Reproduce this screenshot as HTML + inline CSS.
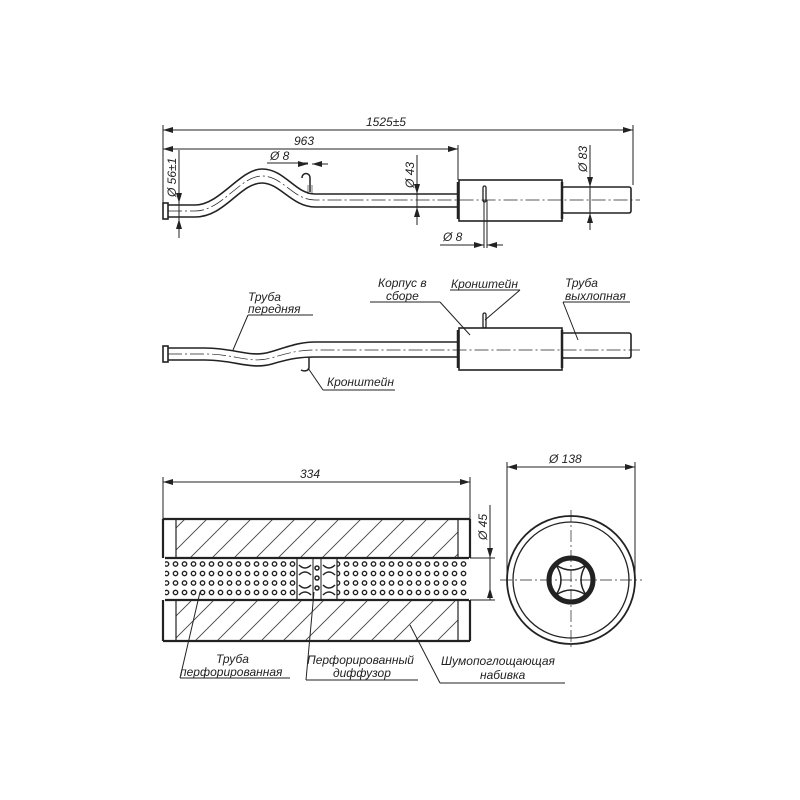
<!DOCTYPE html>
<html><head><meta charset="utf-8"><style>
html,body{margin:0;padding:0;background:#fff}
svg{display:block}
text{font-family:"Liberation Sans",sans-serif;font-style:italic;font-size:12px;fill:#222}
</style></head><body>
<svg width="800" height="800" viewBox="0 0 800 800" xmlns="http://www.w3.org/2000/svg">
<defs>
<marker id="a" markerWidth="10" markerHeight="6" refX="10" refY="3" orient="auto-start-reverse" markerUnits="userSpaceOnUse"><path d="M0,0 L10,3 L0,6 Z" fill="#222"/></marker>
<pattern id="h" width="22" height="22" patternUnits="userSpaceOnUse"><path d="M0,22 L22,0 M-11,11 L11,-11 M11,33 L33,11" stroke="#444" stroke-width="0.9"/></pattern>
<pattern id="p" x="171" y="560" width="9" height="9.5" patternUnits="userSpaceOnUse"><circle cx="4.5" cy="4" r="2.2" fill="none" stroke="#222" stroke-width="1.4"/></pattern>
</defs>
<g stroke="#222" fill="none" stroke-width="1">
<line x1="163" y1="130" x2="633" y2="130" marker-start="url(#a)" marker-end="url(#a)"/>
<line x1="163" y1="125" x2="163" y2="205"/><line x1="633" y1="125" x2="633" y2="185"/>
<line x1="163" y1="149" x2="458" y2="149" marker-start="url(#a)" marker-end="url(#a)"/>
<line x1="458" y1="145" x2="458" y2="180"/>
<line x1="179" y1="150" x2="179" y2="238"/>
<line x1="179" y1="190" x2="179" y2="203" marker-end="url(#a)"/><line x1="179" y1="232" x2="179" y2="219" marker-end="url(#a)"/>
<g stroke-width="1.6">
<rect x="163" y="203" width="5" height="16"/>
<path d="M168,205 L195,205 C220,205 240,169 262,169 C285,169 295,194 315,194 L459,194"/>
<path d="M168,217 L195,217 C225,217 240,183 262,183 C280,183 292,207 315,207 L459,207"/>
<rect x="459" y="180" width="103" height="41"/>
<rect x="562" y="187" width="69" height="26" rx="2"/>
</g>
<line x1="458" y1="182" x2="458" y2="219" stroke-width="2.5"/><line x1="562" y1="182" x2="562" y2="219" stroke-width="2.5"/>
<path d="M168,211 L195,211 C222,211 240,176 262,176 C283,176 293,200 315,200 L640,200" stroke-dasharray="14,3,2,3" stroke-width="0.7"/>
<path d="M310,192 L310,178 C310,172 302,172 302,178" stroke-width="1.5"/>
<line x1="312" y1="185" x2="312" y2="194" stroke-width="0.6"/><line x1="308" y1="185" x2="308" y2="194" stroke-width="0.6"/>
<line x1="267" y1="163" x2="308" y2="163"/><line x1="300" y1="164" x2="308" y2="164" marker-end="url(#a)"/><line x1="328" y1="164" x2="312" y2="164" marker-end="url(#a)"/>
<line x1="417" y1="155" x2="417" y2="225"/>
<line x1="417" y1="182" x2="417" y2="194" marker-end="url(#a)"/><line x1="417" y1="219" x2="417" y2="207" marker-end="url(#a)"/>
<rect x="483" y="186" width="3" height="16" rx="1.5" stroke-width="1.3"/>
<line x1="484" y1="200" x2="484" y2="248"/><line x1="487" y1="200" x2="487" y2="248"/>
<line x1="440" y1="245" x2="484" y2="245"/><line x1="474" y1="245" x2="484" y2="245" marker-end="url(#a)"/><line x1="503" y1="245" x2="487" y2="245" marker-end="url(#a)"/>
<line x1="590" y1="145" x2="590" y2="230"/>
<line x1="590" y1="175" x2="590" y2="187" marker-end="url(#a)"/><line x1="590" y1="225" x2="590" y2="213" marker-end="url(#a)"/>
<g stroke-width="1.6">
<rect x="163" y="346" width="5" height="16"/>
<path d="M168,348 L205,348 C235,348 250,358 270,352 C290,346 300,342 315,342 L459,342"/>
<path d="M168,360 L205,360 C235,360 250,370 272,364 C292,358 302,357 315,357 L459,357"/>
<rect x="459" y="328" width="103" height="42"/>
<rect x="562" y="333" width="69" height="25" rx="2"/>
</g>
<line x1="458" y1="330" x2="458" y2="368" stroke-width="2.5"/><line x1="562" y1="330" x2="562" y2="368" stroke-width="2.5"/>
<path d="M168,354 L205,354 C235,354 250,364 271,358 C291,352 301,350 315,350 L640,350" stroke-dasharray="14,3,2,3" stroke-width="0.7"/>
<path d="M309,357 L309,367 C309,372 303,371 301,370" stroke-width="1.5"/>
<rect x="483" y="313" width="3" height="15" rx="1.5" stroke-width="1.3"/>
<line x1="233" y1="350" x2="248" y2="315"/><line x1="248" y1="315" x2="313" y2="315"/>
<line x1="308" y1="368" x2="323" y2="390"/><line x1="323" y1="390" x2="395" y2="390"/>
<line x1="470" y1="335" x2="440" y2="302"/><line x1="440" y1="302" x2="370" y2="302"/>
<line x1="485" y1="320" x2="520" y2="290"/><line x1="520" y1="290" x2="450" y2="290"/>
<line x1="578" y1="340" x2="563" y2="302"/><line x1="563" y1="302" x2="630" y2="302"/>
<line x1="163" y1="482" x2="470" y2="482" marker-start="url(#a)" marker-end="url(#a)"/>
<line x1="163" y1="477" x2="163" y2="520"/><line x1="470" y1="477" x2="470" y2="520"/>
<rect x="176" y="520" width="282" height="38" fill="url(#h)" stroke="none"/>
<rect x="176" y="600" width="282" height="40" fill="url(#h)" stroke="none"/>
<rect x="165" y="558" width="304" height="42" fill="url(#p)" stroke="none"/>
<rect x="297" y="558" width="40" height="42" fill="#fff" stroke="none"/>
<g stroke-width="2.2">
<line x1="163" y1="519" x2="470" y2="519"/><line x1="163" y1="641" x2="470" y2="641"/>
<line x1="165" y1="558" x2="469" y2="558"/><line x1="165" y1="600" x2="469" y2="600"/>
<line x1="163" y1="519" x2="163" y2="558"/><line x1="163" y1="600" x2="163" y2="641"/>
<line x1="470" y1="519" x2="470" y2="558"/><line x1="470" y1="600" x2="470" y2="641"/>
<line x1="176" y1="519" x2="176" y2="558" stroke-width="1.2"/><line x1="176" y1="600" x2="176" y2="641" stroke-width="1.2"/>
<line x1="458" y1="519" x2="458" y2="558" stroke-width="1.2"/><line x1="458" y1="600" x2="458" y2="641" stroke-width="1.2"/>
<line x1="297" y1="558" x2="297" y2="600" stroke-width="1.2"/><line x1="337" y1="558" x2="337" y2="600" stroke-width="1.2"/>
<line x1="313" y1="558" x2="313" y2="600" stroke-width="1"/><line x1="321" y1="558" x2="321" y2="600" stroke-width="1"/>
</g>
<g stroke-width="1.5">
<path d="M299,565 q6,6 12,0 M299,575 q6,-6 12,0 M299,585 q6,6 12,0 M299,595 q6,-6 12,0 M323,565 q6,6 12,0 M323,575 q6,-6 12,0 M323,585 q6,6 12,0 M323,595 q6,-6 12,0"/>
<circle cx="317" cy="568" r="2"/><circle cx="317" cy="578" r="2"/><circle cx="317" cy="588" r="2"/>
</g>
<line x1="470" y1="558" x2="495" y2="558"/><line x1="470" y1="600" x2="495" y2="600"/>
<line x1="490" y1="505" x2="490" y2="600"/>
<line x1="490" y1="546" x2="490" y2="558" marker-end="url(#a)"/><line x1="490" y1="588" x2="490" y2="600" marker-start="url(#a)"/>
<line x1="507" y1="467" x2="635" y2="467" marker-start="url(#a)" marker-end="url(#a)"/>
<line x1="507" y1="462" x2="507" y2="580"/><line x1="635" y1="462" x2="635" y2="580"/>
<circle cx="571" cy="580" r="64" stroke-width="1.8"/>
<circle cx="571" cy="580" r="58" stroke-width="1.3"/>
<circle cx="571" cy="580" r="22" stroke-width="5"/>
<path d="M556,565 Q571,575 586,565 Q576,580 586,595 Q571,585 556,595 Q566,580 556,565 Z" stroke-width="1.5"/>
<line x1="500" y1="580" x2="642" y2="580" stroke-dasharray="12,3,2,3" stroke-width="0.7"/>
<line x1="571" y1="510" x2="571" y2="650" stroke-dasharray="12,3,2,3" stroke-width="0.7"/>
<line x1="200" y1="592" x2="180" y2="678"/><line x1="180" y1="678" x2="290" y2="678"/>
<line x1="314" y1="592" x2="306" y2="680"/><line x1="306" y1="680" x2="418" y2="680"/>
<line x1="410" y1="625" x2="440" y2="683"/><line x1="440" y1="683" x2="565" y2="683"/>
</g>
<text x="366" y="126">1525±5</text>
<text x="294" y="145">963</text>
<text x="270" y="160">Ø 8</text>
<text x="443" y="241">Ø 8</text>
<text transform="translate(176,197) rotate(-90)">Ø 56±1</text>
<text transform="translate(414,188) rotate(-90)">Ø 43</text>
<text transform="translate(587,172) rotate(-90)">Ø 83</text>
<text x="248" y="301">Труба</text>
<text x="248" y="313">передняя</text>
<text x="327" y="386">Кронштейн</text>
<text x="378" y="287">Корпус в</text>
<text x="386" y="300">сборе</text>
<text x="451" y="288">Кронштейн</text>
<text x="565" y="287">Труба</text>
<text x="565" y="300">выхлопная</text>
<text x="300" y="478">334</text>
<text x="549" y="463">Ø 138</text>
<text transform="translate(487,540) rotate(-90)">Ø 45</text>
<text x="216" y="663">Труба</text>
<text x="180" y="676">перфорированная</text>
<text x="307" y="664">Перфорированный</text>
<text x="333" y="677">диффузор</text>
<text x="441" y="665">Шумопоглощающая</text>
<text x="480" y="679">набивка</text>
</svg>
</body></html>
